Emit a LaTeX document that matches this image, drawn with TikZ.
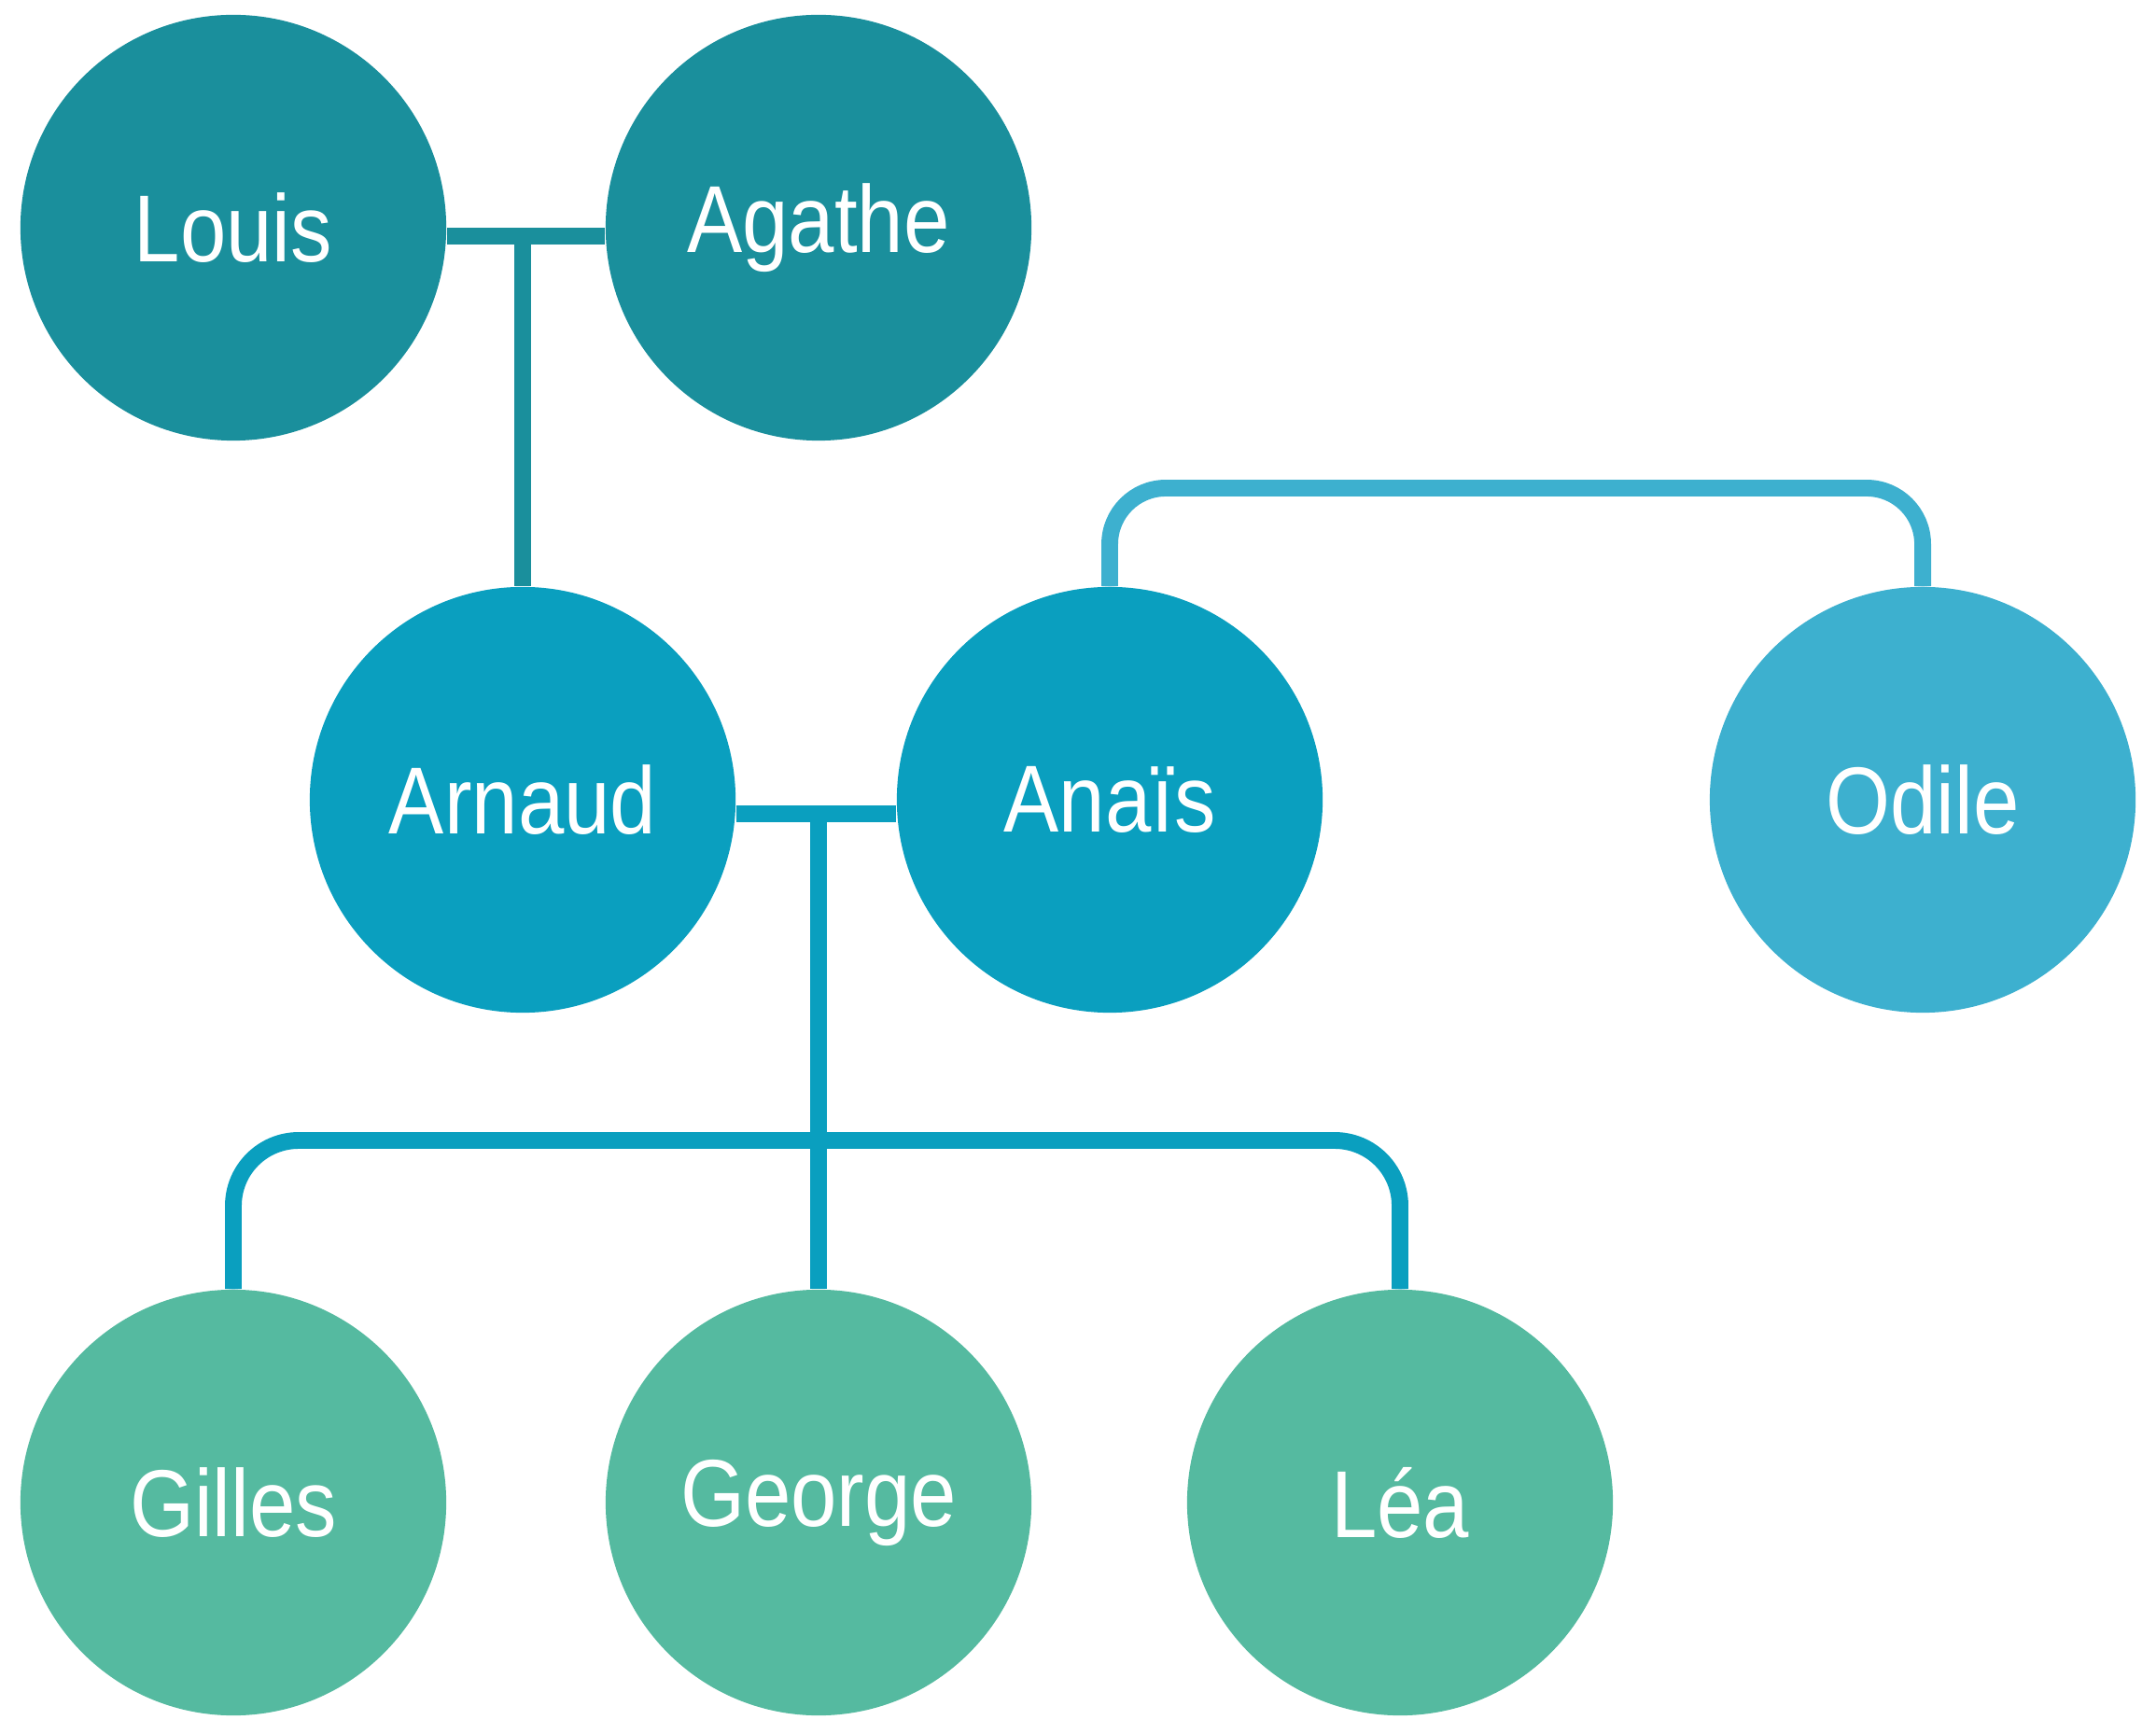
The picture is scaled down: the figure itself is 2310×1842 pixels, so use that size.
\documentclass[tikz,border=0pt]{standalone}
\usepackage{fontspec}
\setmainfont{Liberation Sans}
\newfontfamily\pfont[FakeStretch=0.87]{Liberation Sans}
\usetikzlibrary{calc}
\definecolor{cTop}{rgb}{0.102,0.561,0.612}
\definecolor{cMid}{rgb}{0.039,0.624,0.749}
\definecolor{cOdile}{rgb}{0.239,0.690,0.812}
\definecolor{cKid}{rgb}{0.333,0.729,0.627}
\begin{document}
\begin{tikzpicture}[x=0.01cm,y=0.01cm,
  person/.style={circle,minimum size=4.56cm,inner sep=0pt,
    font=\pfont\fontsize{29}{34}\selectfont},
  connector/.style={line width=5.1pt,fill=none,
    postaction={draw,line width=2.8pt},postaction={draw,line width=1pt}}]
\useasboundingbox (0,0) rectangle (2310,1842);
\coordinate (kbar) at (0,620);
\coordinate (obar) at (0,1319);
\node[person,fill=cTop] (Louis) at (250,1598) {\textcolor{white}{Louis}};
\node[person,fill=cTop] (Agathe) at (877,1598) {\textcolor{white}{Agathe}};
\node[person,fill=cMid] (Arnaud) at (560,985) {\textcolor{white}{Arnaud}};
\node[person,fill=cMid] (Anais) at (1189,985) {\textcolor{white}{Anaïs}};
\node[person,fill=cOdile] (Odile) at (2060,985) {\textcolor{white}{Odile}};
\node[person,fill=cKid] (Gilles) at (250,232) {\textcolor{white}{Gilles}};
\node[person,fill=cKid] (George) at (877,232) {\textcolor{white}{George}};
\node[person,fill=cKid] (Lea) at (1500,232) {\textcolor{white}{Léa}};
\coordinate (m1) at ($(Arnaud.north|-Louis.east)+(0,-9)$);
\coordinate (m2) at ($(George.north|-Arnaud.east)+(0,-15)$);
\draw[connector,draw=cTop] ($(Louis.east)+(0,-9)$) -- ($(Agathe.west)+(0,-9)$);
\draw[connector,draw=cTop] (m1) -- (Arnaud.north);
\draw[connector,draw=cMid] ($(Arnaud.east)+(0,-15)$) -- ($(Anais.west)+(0,-15)$);
\draw[connector,draw=cMid] (m2) -- (George.north);
\draw[connector,draw=cMid,rounded corners=0.7cm] (Gilles.north) -- (Gilles.north|-kbar) -- (Lea.north|-kbar) -- (Lea.north);
\draw[connector,draw=cOdile,rounded corners=0.6cm] (Anais.north) -- (Anais.north|-obar) -- (Odile.north|-obar) -- (Odile.north);
\end{tikzpicture}
\end{document}
